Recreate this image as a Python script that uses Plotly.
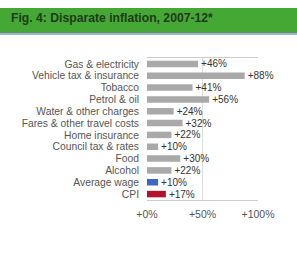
import plotly.graph_objects as go

categories = ["Gas & electricity", "Vehicle tax & insurance", "Tobacco", "Petrol & oil",
              "Water & other charges", "Fares & other travel costs", "Home insurance",
              "Council tax & rates", "Food", "Alcohol", "Average wage", "CPI"]
values = [46, 88, 41, 56, 24, 32, 22, 10, 30, 22, 10, 17]
bar_colors = ["#a9a9a9"] * 10 + ["#3b66c4", "#b3122c"]
tick_vals = [0, 50, 100]
tick_text = ["+0%", "+50%", "+100%"]
title = "Fig. 4: Disparate inflation, 2007-12*"

labels = ["+%d%%" % v for v in values]

fig = go.Figure(go.Bar(
    y=categories, x=values, orientation="h",
    marker=dict(color=bar_colors, line=dict(width=0)),
    text=labels, textposition="outside", cliponaxis=False, constraintext="none",
    textfont=dict(family="Liberation Sans, Arial", size=10, color="#333333"),
))

L, R, T, B = 147, 39, 58, 57
fig.update_layout(
    width=297, height=257,
    margin=dict(l=L, r=R, t=T, b=B),
    paper_bgcolor="white", plot_bgcolor="white",
    showlegend=False, bargap=0.45,
    font=dict(family="Liberation Sans, Arial", size=10, color="#555555"),
    xaxis=dict(range=[0, 100], tickvals=tick_vals, ticktext=tick_text,
               showgrid=True, gridcolor="#dddddd", gridwidth=1,
               showline=True, linecolor="#cccccc", mirror=True,
               zeroline=False, ticks="", ticklabelstandoff=4,
               tickfont=dict(size=10.5, color="#555555")),
    yaxis=dict(autorange="reversed", showline=False, ticks="", showgrid=False,
               tickmode="array", tickvals=categories, ticktext=categories,
               ticklabelstandoff=7, tickfont=dict(size=10.3, color="#555555")),
)

pw = 297 - L - R
def px(x): return (x - L) / pw

# header band: pixel offsets above the plot top (which sits at y = T)
fig.add_shape(type="rect", xref="paper", yref="paper", ysizemode="pixel", yanchor=1,
              x0=px(0), x1=px(297), y0=T - 33, y1=T - 8,
              fillcolor="#46a834", line=dict(width=0), layer="above")
fig.add_shape(type="line", xref="paper", yref="paper", ysizemode="pixel", yanchor=1,
              x0=px(0), x1=px(297), y0=T - 34, y1=T - 34,
              line=dict(color="#8c8fd0", width=1.5))
fig.add_annotation(xref="paper", yref="paper", x=px(9), y=1, yshift=T - 17.5,
                   xanchor="left", yanchor="middle", showarrow=False,
                   text="<b>" + title + "</b>",
                   font=dict(family="Liberation Sans, Arial", size=12.2, color="#1e3a1a"))

fig.write_html("out.html", config={"displayModeBar": False},
               post_script="document.body.style.margin='0';")
